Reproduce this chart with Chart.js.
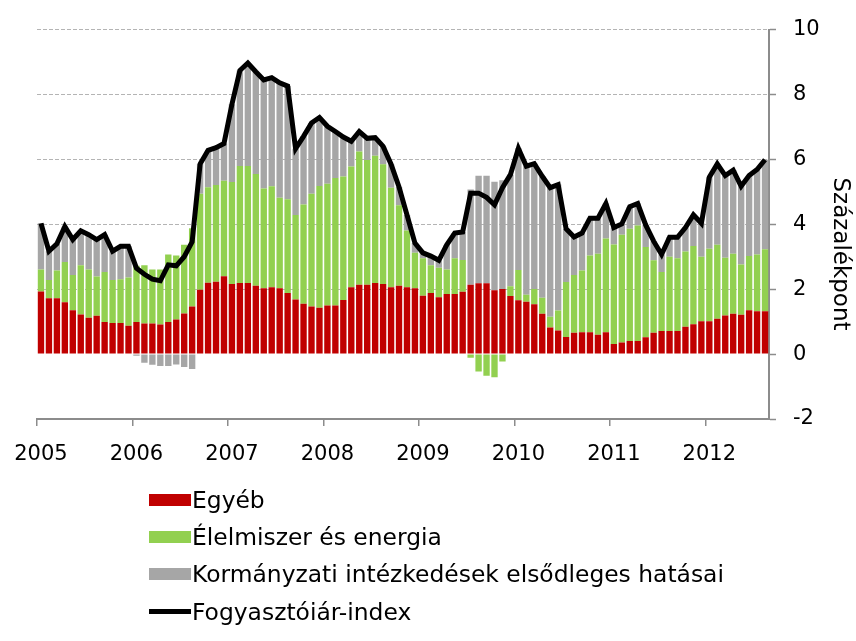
<!DOCTYPE html>
<html>
<head>
<meta charset="utf-8">
<script src="https://cdn.jsdelivr.net/npm/chart.js@4.4.0/dist/chart.umd.min.js"></script>
<style>
  html, body { margin: 0; padding: 0; background: #fff; }
  #wrap { position: relative; width: 856px; height: 641px; }
  #legend {
    position: absolute; left: 149px; top: 481px;
    font-family: 'DejaVu Sans', sans-serif;
    font-size: 23.4px; color: #000;
  }
  .row { display: flex; align-items: center; height: 37.3px; white-space: nowrap; }
  .sw { width: 42px; margin-right: 1px; flex: none; }
</style>
</head>
<body>
<div id="wrap">
  <canvas id="chart" width="856" height="641"></canvas>
  <div id="legend"></div>
</div>
<script>
const years = ['2005', '2006', '2007', '2008', '2009', '2010', '2011', '2012'];
const lastMonth = 8; // 2012: jan-aug

// havi kategóriák 2005 jan - 2012 aug
const months = [];
years.forEach((y, i) => {
  const n = i === years.length - 1 ? lastMonth : 12;
  for (let m = 1; m <= n; m++) months.push(y + '-' + String(m).padStart(2, '0'));
});

const egyeb = [
  1.93, 1.72, 1.72, 1.60, 1.35, 1.22, 1.12, 1.18, 0.99, 0.96, 0.96, 0.87,
  0.99, 0.94, 0.94, 0.91, 0.99, 1.07, 1.25, 1.47, 1.98, 2.20, 2.23, 2.40,
  2.16, 2.19, 2.19, 2.11, 2.03, 2.06, 2.03, 1.88, 1.68, 1.55, 1.47, 1.43,
  1.50, 1.50, 1.67, 2.06, 2.14, 2.14, 2.19, 2.16, 2.06, 2.11, 2.06, 2.03,
  1.80, 1.88, 1.75, 1.85, 1.85, 1.92, 2.14, 2.18, 2.18, 1.97, 2.01, 1.79,
  1.66, 1.61, 1.54, 1.24, 0.82, 0.73, 0.53, 0.66, 0.67, 0.67, 0.60, 0.67,
  0.31, 0.36, 0.40, 0.40, 0.52, 0.66, 0.71, 0.71, 0.71, 0.84, 0.92, 1.01,
  1.01, 1.09, 1.19, 1.24, 1.21, 1.35, 1.32, 1.32
];

const elelmiszer = [
  0.68, 0.56, 0.86, 1.24, 1.09, 1.52, 1.49, 1.21, 1.54, 1.32, 1.35, 1.49,
  1.73, 1.80, 1.67, 1.70, 2.08, 1.97, 2.12, 2.41, 2.96, 2.94, 2.98, 2.94,
  3.14, 3.61, 3.61, 3.44, 3.07, 3.11, 2.79, 2.89, 2.61, 3.06, 3.47, 3.75,
  3.75, 3.93, 3.80, 3.72, 4.10, 3.84, 3.92, 3.69, 3.07, 2.48, 1.75, 1.09,
  1.15, 0.86, 0.91, 0.76, 1.10, 0.98, -0.11, -0.54, -0.67, -0.71, -0.23, 0.30,
  0.93, 0.22, 0.47, 0.50, 0.33, 0.61, 1.69, 1.78, 1.91, 2.37, 2.49, 2.89,
  3.07, 3.32, 3.46, 3.56, 2.78, 2.23, 1.82, 2.29, 2.24, 2.32, 2.41, 1.99,
  2.24, 2.28, 1.78, 1.85, 1.55, 1.67, 1.75, 1.91
];

const kormanyzati = [
  1.42, 0.89, 0.82, 1.09, 1.09, 1.06, 1.07, 1.14, 1.15, 0.89, 1.01, 0.96,
  -0.05, -0.27, -0.33, -0.37, -0.37, -0.32, -0.40, -0.46, 0.92, 1.14, 1.15, 1.15,
  2.40, 2.94, 3.17, 3.15, 3.35, 3.35, 3.54, 3.49, 2.04, 2.10, 2.18, 2.11,
  1.77, 1.43, 1.22, 0.78, 0.62, 0.67, 0.56, 0.55, 0.72, 0.56, 0.48, 0.30,
  0.17, 0.28, 0.23, 0.76, 0.78, 0.86, 2.93, 3.32, 3.32, 3.34, 3.35, 3.44,
  3.75, 3.96, 3.86, 3.74, 3.98, 3.89, 1.64, 1.17, 1.15, 1.15, 1.10, 1.08,
  0.52, 0.33, 0.68, 0.68, 0.68, 0.59, 0.54, 0.60, 0.65, 0.74, 0.96, 1.03,
  2.20, 2.49, 2.53, 2.58, 2.41, 2.48, 2.62, 2.76
];

const fogyasztoiar = [
  4.03, 3.17, 3.40, 3.93, 3.53, 3.80, 3.68, 3.53, 3.68, 3.17, 3.32, 3.32,
  2.65, 2.46, 2.31, 2.26, 2.75, 2.72, 3.00, 3.46, 5.86, 6.28, 6.36, 6.49,
  7.70, 8.74, 8.97, 8.70, 8.45, 8.52, 8.36, 8.26, 6.33, 6.71, 7.12, 7.29,
  7.02, 6.86, 6.69, 6.56, 6.86, 6.65, 6.67, 6.40, 5.85, 5.15, 4.29, 3.42,
  3.12, 3.02, 2.89, 3.37, 3.73, 3.76, 4.96, 4.96, 4.83, 4.60, 5.13, 5.53,
  6.34, 5.79, 5.87, 5.48, 5.13, 5.22, 3.86, 3.61, 3.73, 4.19, 4.19, 4.64,
  3.90, 4.01, 4.54, 4.64, 3.98, 3.48, 3.07, 3.60, 3.60, 3.90, 4.29, 4.03,
  5.45, 5.86, 5.50, 5.67, 5.17, 5.50, 5.69, 5.99
];

const yTicks = [-2, 0, 2, 4, 6, 8, 10];
const yTitle = 'Százalékpont';

const FONT = "'DejaVu Sans', sans-serif";

// jobb oldali tengelycím, lefelé olvasva
const yTitlePlugin = {
  id: 'yTitle',
  afterDraw(chart) {
    const c = chart.ctx;
    c.save();
    c.translate(840, 254);
    c.rotate(Math.PI / 2);
    c.font = '23px ' + FONT;
    c.fillStyle = '#000';
    c.textAlign = 'center';
    c.textBaseline = 'middle';
    c.fillText(yTitle, 0, 0);
    c.restore();
  }
};

const chart = new Chart(document.getElementById('chart'), {
  data: {
    labels: months,
    datasets: [
      {
        type: 'line',
        label: 'Fogyasztóiár-index',
        data: fogyasztoiar,
        borderColor: '#000',
        borderWidth: 5,
        pointRadius: 0,
        tension: 0,
        stack: 'cpi',
        order: 0,
      },
      {
        type: 'bar',
        label: 'Egyéb',
        data: egyeb,
        backgroundColor: '#C00000',
        stack: 'comp',
        order: 1,
      },
      {
        type: 'bar',
        label: 'Élelmiszer és energia',
        data: elelmiszer,
        backgroundColor: '#92D050',
        stack: 'comp',
        order: 1,
      },
      {
        type: 'bar',
        label: 'Kormányzati intézkedések elsődleges hatásai',
        data: kormanyzati,
        backgroundColor: '#A6A6A6',
        stack: 'comp',
        order: 1,
      },
    ],
  },
  options: {
    responsive: false,
    devicePixelRatio: 1,
    animation: false,
    layout: { padding: { left: 37, right: 0, top: 27, bottom: 177 } },
    datasets: { bar: { barPercentage: 0.8, categoryPercentage: 1.0 } },
    plugins: {
      legend: { display: false },
      tooltip: { enabled: false },
    },
    scales: {
      x: {
        stacked: true,
        offset: true,
        grid: {
          offset: true,
          drawOnChartArea: false,
          drawTicks: true,
          tickLength: 7,
          lineWidth: 1.5,
          color: (ctx) => (ctx.index % 12 === 0 ? '#8c8c8c' : 'transparent'),
        },
        border: { display: true, color: '#8c8c8c', width: 2 },
        ticks: {
          autoSkip: false,
          maxRotation: 0,
          minRotation: 0,
          padding: 16,
          color: '#000',
          font: { family: FONT, size: 21 },
          callback: (v, i) => (i % 12 === 0 ? years[i / 12] : ''),
        },
        afterFit: (s) => {
          s.height = 45;
          s.paddingLeft = 0;
          s.paddingRight = 0;
        },
      },
      y: {
        position: 'right',
        stacked: true,
        min: yTicks[0],
        max: yTicks[yTicks.length - 1],
        afterBuildTicks: (s) => { s.ticks = yTicks.map((v) => ({ value: v })); },
        ticks: {
          padding: 17,
          color: '#000',
          font: { family: FONT, size: 21 },
        },
        grid: {
          drawTicks: true,
          tickLength: 7,
          tickColor: '#8c8c8c',
          tickWidth: 1.5,
          lineWidth: 1,
          color: (ctx) => (ctx.tick && ctx.tick.value > 0 ? '#b4b4b4' : 'transparent'),
        },
        border: { display: true, color: '#8c8c8c', width: 2, dash: [4, 2] },
        afterFit: (s) => { s.width = 87; },
      },
    },
  },
  plugins: [yTitlePlugin],
});

// jelmagyarázat: egy oszlopban, ahogy az eredetin
const legendOrder = [1, 2, 3, 0];
const legendEl = document.getElementById('legend');
legendOrder.forEach((di) => {
  const ds = chart.data.datasets[di];
  const row = document.createElement('div');
  row.className = 'row';
  const sw = document.createElement('span');
  sw.className = 'sw';
  if (ds.type === 'line') {
    sw.style.height = '5px';
    sw.style.background = ds.borderColor;
  } else {
    sw.style.height = '12px';
    sw.style.background = ds.backgroundColor;
  }
  const txt = document.createElement('span');
  txt.textContent = ds.label;
  row.appendChild(sw);
  row.appendChild(txt);
  legendEl.appendChild(row);
});
</script>
</body>
</html>
